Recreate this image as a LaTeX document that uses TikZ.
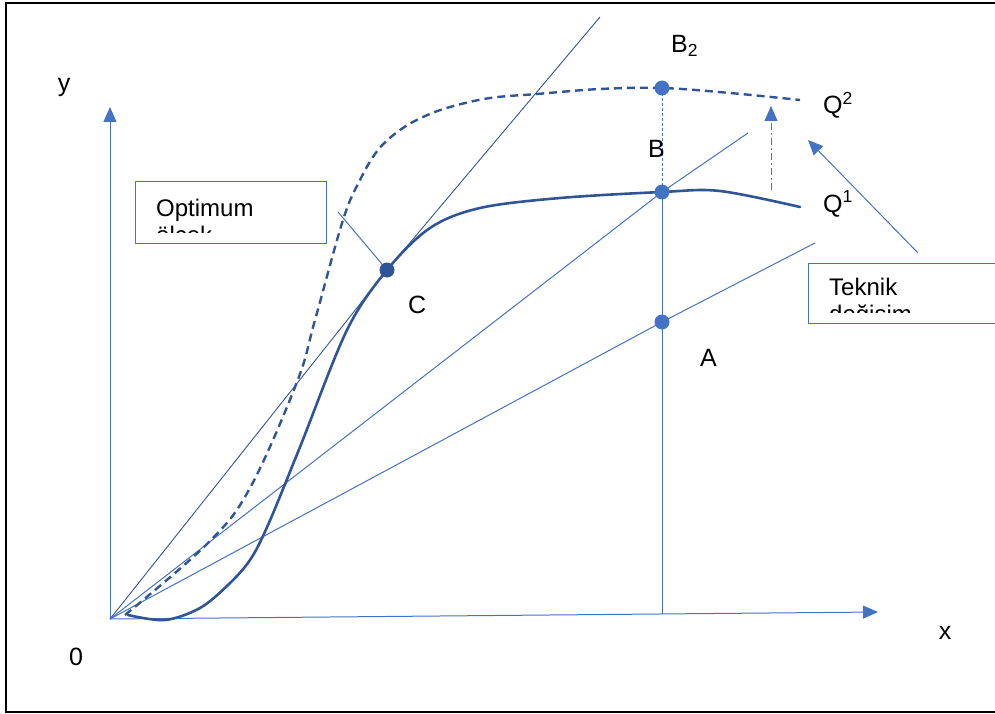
\documentclass[tikz,border=0pt]{standalone}
\usepackage{fontspec}
\setmainfont{Liberation Sans}
\usetikzlibrary{arrows.meta}
\definecolor{lb}{HTML}{4472C4}
\definecolor{db}{HTML}{2F5597}
\begin{document}
\begin{tikzpicture}[x=1pt,y=-1pt,
  thinline/.style={lb, line width=1pt},
  curveline/.style={db, line width=2.6pt, line cap=round},
  dotnode/.style={circle, fill=lb, inner sep=0pt, minimum size=15pt},
  lbl/.style={inner sep=0pt, anchor=base west, font=\fontsize{25}{29}\selectfont},
  boxtext/.style={inner sep=0pt, anchor=base west, font=\fontsize{24}{28}\selectfont},
  tipped/.style={-{Triangle[length=15pt,width=13pt]}},
  boxline/.style={lb, line width=1pt},
]
\useasboundingbox (0,0) rectangle (995,714);
% frame
\draw[line width=2pt] (995,3) -- (6,3) -- (6,712) -- (995,712);

% coordinates
\coordinate (O) at (110,619);
\coordinate (ytip) at (110,107);
\coordinate (xtip) at (878,612);
\coordinate (pB2) at (662,88);
\coordinate (pB) at (662,192);
\coordinate (pA) at (662,322);
\coordinate (pC) at (387,270);
\coordinate (r1) at (600,17);
\coordinate (r2) at (748,133);
\coordinate (r3) at (815,243);
\coordinate (Afoot) at (662,614);
\coordinate (tcs) at (771,190);
\coordinate (tce) at (771,106);
\coordinate (ts) at (918,253);
\coordinate (te) at (808,140);
\coordinate (os) at (338,212);

% axes
\draw[thinline, tipped] (O) -- (ytip);
\draw[thinline, tipped] (O) -- (xtip);

% rays
\draw[db, line width=0.9pt] (O) -- (pC) -- (r1);
\draw[thinline] (O) -- (pB) -- (r2);
\draw[thinline] (O) -- (pA) -- (r3);

% verticals
\draw[thinline] (pB) -- (pA) -- (Afoot);
\draw[lb, line width=1pt, dash pattern=on 3pt off 2pt] (pB2) -- (pB);
\draw[lb, line width=1pt, dash pattern=on 7pt off 3pt on 2pt off 3pt, tipped] (tcs) -- (tce);

% curves
\draw[curveline] plot[smooth, tension=0.55] coordinates {(128,615) (165,620) (200,608) (228,585) (250,560) (268,525) (300,447) (347,330) (387,270) (430,228) (480,208) (560,198) (662,192) (720,191) (800,207)};
\draw[db, line width=2.4pt, dash pattern=on 8pt off 5pt] plot[smooth, tension=0.6] coordinates {(125,615) (208,543) (250,488) (297,382) (315,320) (343,220) (360,180) (378,150) (400,130) (423,117) (450,107) (490,98) (537,94) (600,89) (662,88) (730,93) (800,100)};

% connectors
\draw[thinline, tipped] (ts) -- (te);
\draw[thinline] (os) -- (pC);

% dots
\node[dotnode] (B2) at (pB2) {};
\node[dotnode] (B) at (pB) {};
\node[dotnode] (A) at (pA) {};
\node[dotnode, fill=db] (C) at (pC) {};

% boxes
\draw[boxline] (135,182) rectangle (326,243);
\begin{scope}
\clip (135,182) rectangle (326,232);
\node[boxtext] (opt1) at (156,216) {Optimum};
\node[boxtext] (opt2) at (156,243) {ölçek};
\end{scope}
\draw[boxline] (995,263) -- (808,263) -- (808,323) -- (995,323);
\begin{scope}
\clip (808,263) rectangle (995,312);
\node[boxtext] (tek1) at (829,295) {Teknik};
\node[boxtext] (tek2) at (829,322) {değişim};
\end{scope}

% labels
\node[lbl, anchor=base] (ly) at (64,92) {y};
\node[lbl, anchor=base] (lx) at (945,639) {x};
\node[lbl, anchor=base] (l0) at (76,665) {0};
\node[lbl] (lB2) at (671,53) {B\textsubscript{2}};
\node[lbl] (lB) at (648,158) {B};
\node[lbl] (lQ2) at (823,114) {Q\textsuperscript{2}};
\node[lbl] (lQ1) at (823,212) {Q\textsuperscript{1}};
\node[lbl] (lC) at (408,313) {C};
\node[lbl] (lA) at (700,366) {A};
\end{tikzpicture}
\end{document}
